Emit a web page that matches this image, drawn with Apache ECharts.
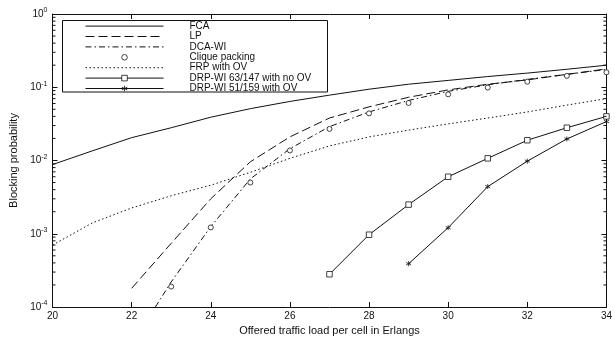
<!DOCTYPE html>
<html>
<head>
<meta charset="utf-8">
<script src="https://cdn.jsdelivr.net/npm/echarts@6/dist/echarts.min.js"></script>
<style>html,body{margin:0;padding:0;background:#fff}#c{width:615px;height:342px}</style>
</head>
<body>
<div id="c"></div>
<script>
// ---- data ----
const xTicks = [20, 22, 24, 26, 28, 30, 32, 34];
const fcaX = [20,21,22,23,24,25,26,27,28,29,30,31,32,33,34];
const fca  = [0.0088,0.0135,0.0205,0.028,0.039,0.051,0.064,0.078,0.094,0.11,0.124,0.14,0.156,0.176,0.20];
const lpX = [22,23,24,25,26,27,28,29,30,31,32,33,34];
const lp  = [1.8e-4,7.4e-4,3.0e-3,9.6e-3,0.021,0.038,0.054,0.073,0.092,0.11,0.126,0.15,0.178];
const dcaX = [22.6,23,24,25,26,27,28,29,30,31,32,33,34];
const dca  = [1e-4,2.2e-4,1.25e-3,5.6e-3,0.0145,0.029,0.046,0.066,0.088,0.108,0.128,0.15,0.175];
const cliqueX = [23,24,25,26,27,28,29,30,31,32,33,34];
const clique  = [1.9e-4,1.22e-3,5.0e-3,0.0137,0.027,0.044,0.061,0.080,0.099,0.119,0.143,0.16];
const frpX = [20,21,22,23,24,25,26,27,28,29,30,31,32,33,34];
const frp  = [7.0e-4,1.4e-3,2.25e-3,3.3e-3,4.6e-3,6.9e-3,0.0107,0.0158,0.021,0.026,0.0316,0.038,0.046,0.057,0.070];
const drp63X = [27,28,29,30,31,32,33,34];
const drp63  = [2.8e-4,9.7e-4,2.5e-3,6.0e-3,0.0107,0.0189,0.028,0.040];
const drp51X = [29,30,31,32,33,34];
const drp51  = [3.9e-4,1.21e-3,4.4e-3,9.8e-3,0.0197,0.034];
const names = ['FCA','LP','DCA-WI','Clique packing','FRP with OV','DRP-WI 63/147 with no OV','DRP-WI 51/159 with OV'];
const decades = [1e-4,1e-3,1e-2,1e-1];
const minorMult = [2,3,4,5,6,7,8,9];

const pairs = (xs, ys) => xs.map((x, i) => [x, ys[i]]);
const minorVals = [];
decades.forEach(d => minorMult.forEach(m => minorVals.push([20, d * m])));

const K = '#111';
const FONT = "'Liberation Sans', Arial, sans-serif";
const star = 'path://M0,-5L0,5M-4.33,-2.5L4.33,2.5M-4.33,2.5L4.33,-2.5';
const hollow = {color: '#fff', borderColor: K, borderWidth: 0.8};

const noSym = {itemStyle: {opacity: 0}};
const legendData = [
  Object.assign({name: names[0]}, noSym),
  Object.assign({name: names[1]}, noSym),
  Object.assign({name: names[2]}, noSym),
  {name: names[3], lineStyle: {opacity: 0, width: 0}, itemStyle: {borderWidth: 0.8}},
  Object.assign({name: names[4]}, noSym),
  {name: names[5], itemStyle: {borderWidth: 0.8}},
  {name: names[6], itemStyle: {borderWidth: 0.8}}
];

const chart = echarts.init(document.getElementById('c'), null, {renderer: 'canvas'});
chart.setOption({
  animation: false,
  backgroundColor: '#fff',
  textStyle: {fontFamily: FONT, color: K},
  grid: {left: 52.5, right: 5.5, top: 14, bottom: 35},
  xAxis: [{
    type: 'value', min: 20, max: 34, interval: 2,
    name: 'Offered traffic load per cell in Erlangs', nameLocation: 'middle', nameGap: 14,
    nameTextStyle: {fontSize: 11, color: K, fontFamily: FONT},
    axisLine: {lineStyle: {color: K, width: 1}},
    axisTick: {inside: true, length: 5, lineStyle: {color: K}},
    axisLabel: {fontSize: 10, color: K, margin: 4, fontFamily: FONT},
    splitLine: {show: false}
  }, {
    type: 'value', min: 20, max: 34, interval: 2, position: 'top',
    axisLine: {lineStyle: {color: K, width: 1}},
    axisTick: {inside: true, length: 5, lineStyle: {color: K}},
    axisLabel: {show: false}, splitLine: {show: false}
  }],
  yAxis: [{
    type: 'log', min: 1e-4, max: 1, logBase: 10,
    name: 'Blocking probability', nameLocation: 'middle', nameGap: 33, nameRotate: 90,
    nameTextStyle: {fontSize: 11, color: K, fontFamily: FONT},
    axisLine: {lineStyle: {color: K, width: 1}},
    axisTick: {inside: true, length: 5, lineStyle: {color: K}},
    axisLabel: {
      margin: 5, color: K,
      formatter: v => '{b|10}{s|' + Math.round(Math.log10(v)) + '}',
      rich: {
        b: {fontSize: 10, fontFamily: FONT, color: K, lineHeight: 14},
        s: {fontSize: 7, fontFamily: FONT, color: K, verticalAlign: 'top', lineHeight: 8}
      }
    },
    splitLine: {show: false}
  }, {
    type: 'log', min: 1e-4, max: 1, logBase: 10, position: 'right',
    axisLine: {lineStyle: {color: K, width: 1}},
    axisTick: {inside: true, length: 5, lineStyle: {color: K}},
    axisLabel: {show: false}, splitLine: {show: false}
  }],
  legend: {
    orient: 'vertical', left: 85, top: 21, padding: 0,
    itemWidth: 78, itemHeight: 7, itemGap: 0.2,
    data: legendData,
    lineStyle: {width: 1},
    itemStyle: {borderWidth: 0.8},
    textStyle: {fontSize: 10, fontFamily: FONT, color: K, lineHeight: 10.2, padding: [0, 0, 0, 21]},
    z: 20
  },
  graphic: [{
    type: 'rect', shape: {x: 62.5, y: 20.5, width: 265, height: 71.5},
    style: {fill: '#fff', stroke: K, lineWidth: 1}, z: 15
  }],
  series: [
    {name: names[0], type: 'line', data: pairs(fcaX, fca), symbol: 'none',
     lineStyle: {color: K, width: 1}, itemStyle: {color: K}},
    {name: names[1], type: 'line', data: pairs(lpX, lp), symbol: 'none',
     lineStyle: {color: K, width: 1, type: [9, 4]}, itemStyle: {color: K}},
    {name: names[2], type: 'line', data: pairs(dcaX, dca), symbol: 'none',
     lineStyle: {color: K, width: 1, type: [6, 3, 1.5, 3]}, itemStyle: {color: K}},
    {name: names[3], type: 'line', data: pairs(cliqueX, clique), symbol: 'circle', symbolSize: 5,
     lineStyle: {width: 0, opacity: 0}, itemStyle: hollow},
    {name: names[4], type: 'line', data: pairs(frpX, frp), symbol: 'none',
     lineStyle: {color: K, width: 1, type: [1.5, 2.5]}, itemStyle: {color: K}},
    {name: names[5], type: 'line', data: pairs(drp63X, drp63), symbol: 'rect', symbolSize: 5.5,
     lineStyle: {color: K, width: 1}, itemStyle: hollow},
    {name: names[6], type: 'line', data: pairs(drp51X, drp51), symbol: star, symbolSize: 5,
     lineStyle: {color: K, width: 1}, itemStyle: {color: K, borderColor: K, borderWidth: 0.8}},
    {type: 'custom', data: minorVals, silent: true, z: 5,
     renderItem: (params, api) => {
       const v = api.value(1);
       const l = api.coord([20, v]);
       const r = api.coord([34, v]);
       return {type: 'group', children: [
         {type: 'line', shape: {x1: l[0], y1: l[1], x2: l[0] + 3, y2: l[1]}, style: {stroke: K, lineWidth: 1}},
         {type: 'line', shape: {x1: r[0], y1: r[1], x2: r[0] - 3, y2: r[1]}, style: {stroke: K, lineWidth: 1}}
       ]};
     }}
  ]
});
</script>
</body>
</html>
